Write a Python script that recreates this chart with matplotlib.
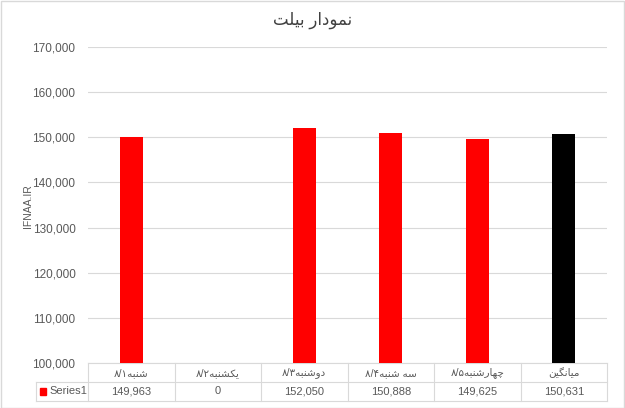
import matplotlib
matplotlib.use("Agg")
from matplotlib import pyplot as plt
from matplotlib import transforms
from matplotlib.patches import Rectangle

# data
days = ["شنبه۱/۸", "یکشنبه۲/۸", "دوشنبه۳/۸", "سه شنبه۴/۸", "چهارشنبه۵/۸", "میانگین"]
values = [149963, 0, 152050, 150888, 149625, 150631]
bar_colors = ["#FF0000", "#FF0000", "#FF0000", "#FF0000", "#FF0000", "#000000"]
series_name = "Series1"
title = "نمودار بیلت"
ylabel = "IFNAA.IR"
yticks = [100000, 110000, 120000, 130000, 140000, 150000, 160000, 170000]

# arabic shaping (matplotlib has no bidi / shaping)
# letter: (isolated, final, initial, medial)
FORMS = {
    "ا": (0xFE8D, 0xFE8E, None, None),
    "ب": (0xFE8F, 0xFE90, 0xFE91, 0xFE92),
    "ت": (0xFE95, 0xFE96, 0xFE97, 0xFE98),
    "ج": (0xFE9D, 0xFE9E, 0xFE9F, 0xFEA0),
    "چ": (0xFB7A, 0xFB7B, 0xFB7C, 0xFB7D),
    "د": (0xFEA9, 0xFEAA, None, None),
    "ر": (0xFEAD, 0xFEAE, None, None),
    "س": (0xFEB1, 0xFEB2, 0xFEB3, 0xFEB4),
    "ش": (0xFEB5, 0xFEB6, 0xFEB7, 0xFEB8),
    "ک": (0xFB8E, 0xFB8F, 0xFB90, 0xFB91),
    "گ": (0xFB92, 0xFB93, 0xFB94, 0xFB95),
    "ل": (0xFEDD, 0xFEDE, 0xFEDF, 0xFEE0),
    "م": (0xFEE1, 0xFEE2, 0xFEE3, 0xFEE4),
    "ن": (0xFEE5, 0xFEE6, 0xFEE7, 0xFEE8),
    "ه": (0xFEE9, 0xFEEA, 0xFEEB, 0xFEEC),
    "و": (0xFEED, 0xFEEE, None, None),
    "ی": (0xFBFC, 0xFBFD, 0xFBFE, 0xFBFF),
}


def shape(s):
    out = []
    for i, c in enumerate(s):
        if c not in FORMS:
            out.append(c)
            continue
        prev = s[i - 1] if i > 0 else ""
        nxt = s[i + 1] if i + 1 < len(s) else ""
        j_prev = prev in FORMS and FORMS[prev][2] is not None
        j_next = FORMS[c][2] is not None and nxt in FORMS
        f = FORMS[c]
        if j_prev and j_next:
            code = f[3]
        elif j_prev:
            code = f[1]
        elif j_next:
            code = f[2]
        else:
            code = f[0]
        out.append(chr(code))
    return "".join(out)[::-1]


plt.rcParams["font.family"] = ["Liberation Sans", "DejaVu Sans"]
gray = "#595959"
W, H = 625, 408

fig = plt.figure(figsize=(6.25, 4.08), dpi=100)
ax = fig.add_axes([88 / W, 1 - 363 / H, (607 - 88) / W, (363 - 47) / H])

x = list(range(len(days)))
ax.bar(x, values, width=0.27, color=bar_colors, zorder=3)
ax.set_xlim(-0.5, len(days) - 0.5)
ax.set_ylim(100000, 170000)
ax.set_yticks(yticks)
ax.set_yticklabels(["{:,}".format(v) for v in yticks], color=gray, fontsize=8.5)
ax.tick_params(axis="y", length=0, pad=9)
ax.set_xticks([])
ax.grid(axis="y", color="#D9D9D9", linewidth=0.8, zorder=0)
for s in ax.spines.values():
    s.set_visible(False)

fig.text(28 / W, 1 - 206 / H, ylabel, rotation=90, color=gray, fontsize=7.5,
         ha="center", va="center")
fig.text(0.5, 1 - 20 / H, shape(title), fontsize=12, color="#404040",
         ha="center", va="center")

# data table under the axis
tr = transforms.blended_transform_factory(ax.transData, fig.transFigure)
lc = "#D9D9D9"


def fy(py):
    return 1 - py / H


n = len(days)
for k in range(n + 1):
    ax.plot([k - 0.5, k - 0.5], [fy(363), fy(401)], color=lc, lw=0.8,
            transform=tr, clip_on=False)
ax.plot([-0.5, n - 0.5], [fy(363), fy(363)], color=lc, lw=0.8, transform=tr, clip_on=False)
fig.add_artist(plt.Line2D([35.5 / W, 607 / W], [fy(382), fy(382)], color=lc, lw=0.8))
fig.add_artist(plt.Line2D([35.5 / W, 607 / W], [fy(401), fy(401)], color=lc, lw=0.8))
fig.add_artist(plt.Line2D([35.5 / W, 35.5 / W], [fy(382), fy(401)], color=lc, lw=0.8))

for i in x:
    ax.text(i, fy(373), shape(days[i]), transform=tr, ha="center", va="center",
            fontsize=7.5, color=gray)
    ax.text(i, fy(391.5), "{:,}".format(values[i]), transform=tr, ha="center",
            va="center", fontsize=8, color=gray)

fig.add_artist(Rectangle((40 / W, fy(394.5)), 6 / W, 6.5 / H, color="#FF0000",
                         transform=fig.transFigure))
fig.text(49 / W, fy(391.5), series_name, fontsize=8, color=gray, va="center")

# chart border
fig.add_artist(Rectangle((0.5 / W, 0.5 / H), (W - 1.5) / W, (H - 1.5) / H,
                         fill=False, edgecolor="#D9D9D9", lw=1,
                         transform=fig.transFigure))

fig.savefig("out.png", dpi=100)
